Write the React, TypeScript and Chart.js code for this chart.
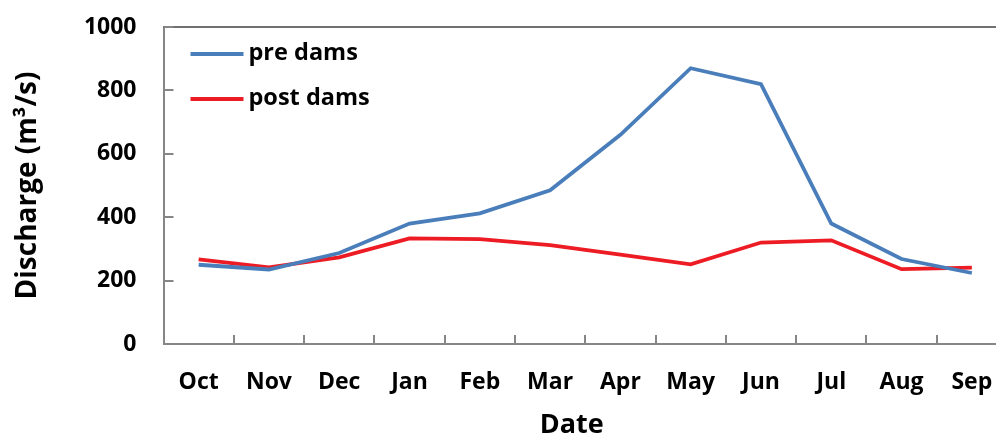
import React, { useEffect, useRef } from "react";
import { Chart, registerables } from "chart.js";
Chart.register(...registerables);

const months = ["Oct", "Nov", "Dec", "Jan", "Feb", "Mar", "Apr", "May", "Jun", "Jul", "Aug", "Sep"];
const preDams = [250, 235, 287, 380, 412, 485, 660, 870, 820, 380, 268, 224];
const postDams = [267, 242, 273, 333, 331, 312, 282, 251, 320, 327, 236, 241];
const yTicks = [0, 200, 400, 600, 800, 1000];
const seriesLabels = ["pre dams", "post dams"];
const seriesColors = ["#4a7ebb", "#ed1c24"];
const xTitle = "Date";
const yTitle = "Discharge (m³/s)";

const FONT = "'Open Sans', 'Liberation Sans', sans-serif";
const W = 1007;
const H = 450;

const decor = {
  id: "decor",
  afterDraw(chart: any) {
    const { ctx, chartArea: a, scales } = chart;
    const x = scales.x;
    const y = scales.y;
    ctx.save();
    // top border
    ctx.strokeStyle = "#404040";
    ctx.lineWidth = 1.5;
    ctx.beginPath();
    ctx.moveTo(a.left, a.top);
    ctx.lineTo(a.right, a.top);
    ctx.stroke();
    // inward ticks
    ctx.strokeStyle = "#868686";
    ctx.lineWidth = 2;
    ctx.beginPath();
    for (let i = 1; i <= months.length; i++) {
      const px = Math.round(x.getPixelForValue(i - 0.5));
      ctx.moveTo(px, a.bottom);
      ctx.lineTo(px, a.bottom - 9);
    }
    for (const v of yTicks) {
      const py = Math.round(y.getPixelForValue(v));
      ctx.moveTo(a.left, py);
      ctx.lineTo(a.left + 10, py);
    }
    ctx.stroke();
    // x title (centred on the visible part of the plot)
    ctx.fillStyle = "#000";
    ctx.font = `bold 27px ${FONT}`;
    ctx.textAlign = "center";
    ctx.textBaseline = "middle";
    ctx.fillText(xTitle, (a.left + 980) / 2, a.bottom + 81);
    // legend
    chart.data.datasets.forEach((ds: any, i: number) => {
      const ly = a.top + 27 + i * 45;
      const lx = a.left + 27;
      ctx.strokeStyle = ds.borderColor;
      ctx.lineWidth = 4;
      ctx.beginPath();
      ctx.moveTo(lx, ly);
      ctx.lineTo(lx + 53, ly);
      ctx.stroke();
      ctx.fillStyle = "#000";
      ctx.font = `bold 23.5px ${FONT}`;
      ctx.textBaseline = "middle";
      ctx.textAlign = "left";
      ctx.fillText(ds.label, lx + 58, ly - 1);
    });
    ctx.restore();
  },
};

export default function App() {
  const ref = useRef<HTMLCanvasElement | null>(null);
  useEffect(() => {
    if (!ref.current) return;
    const chart = new Chart(ref.current, {
      type: "line",
      data: {
        labels: months,
        datasets: [
          {
            label: seriesLabels[0],
            data: preDams,
            borderColor: seriesColors[0],
            backgroundColor: seriesColors[0],
            borderWidth: 3.8,
            pointRadius: 0,
            tension: 0,
          },
          {
            label: seriesLabels[1],
            data: postDams,
            borderColor: seriesColors[1],
            backgroundColor: seriesColors[1],
            borderWidth: 3.8,
            pointRadius: 0,
            tension: 0,
          },
        ],
      },
      options: {
        responsive: false,
        animation: false,
        layout: { padding: { top: 27, left: 0, right: 0, bottom: 0 } },
        plugins: { legend: { display: false }, tooltip: { enabled: false } },
        scales: {
          x: {
            type: "category",
            offset: true,
            grid: { display: false, drawTicks: false },
            border: { display: true, color: "#868686", width: 2 },
            ticks: {
              color: "#000",
              font: { family: FONT, size: 23, weight: "bold" },
              padding: 25,
              maxRotation: 0,
              autoSkip: false,
            },
            title: { display: false },
            afterFit(s: any) {
              s.height = H - 344;
              s.paddingLeft = 0;
              s.paddingRight = 0;
            },
          },
          y: {
            min: 0,
            max: 1000,
            grid: { display: false, drawTicks: false },
            border: { display: true, color: "#868686", width: 2 },
            ticks: {
              stepSize: 200,
              color: "#000",
              font: { family: FONT, size: 23, weight: "bold" },
              padding: 27,
              callback: (v: any) => String(v),
            },
            title: {
              display: true,
              text: yTitle,
              color: "#000",
              font: { family: FONT, size: 28, weight: "bold" },
              padding: { top: 11, bottom: 0 },
            },
            afterFit(s: any) {
              s.width = 163.5;
              s.paddingTop = 0;
              s.paddingBottom = 0;
            },
          },
        },
      },
      plugins: [decor],
    });
    return () => chart.destroy();
  }, []);
  return (
    <div
      style={{
        position: "fixed",
        left: 0,
        top: 0,
        width: 996,
        height: 436,
        overflow: "hidden",
        background: "#fff",
      }}
    >
      <canvas ref={ref} width={W} height={H} style={{ display: "block" }} />
    </div>
  );
}
